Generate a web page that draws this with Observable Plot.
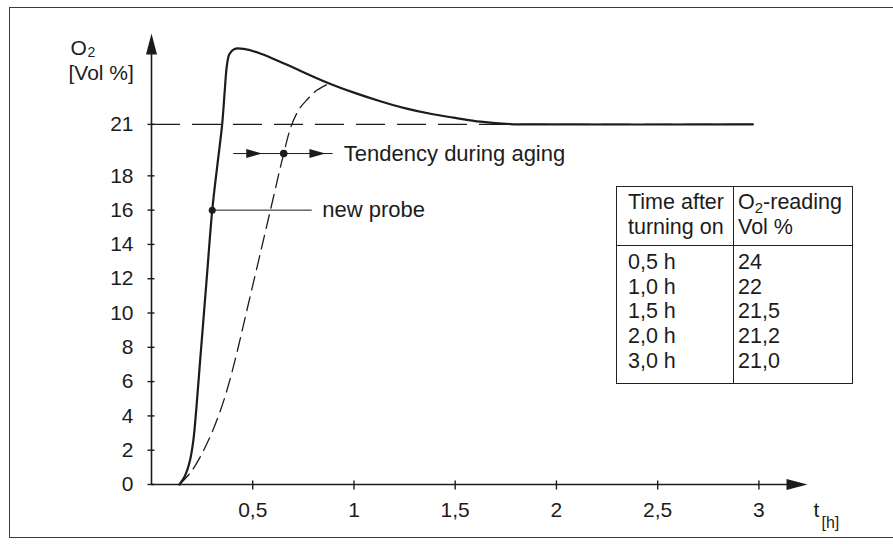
<!DOCTYPE html>
<html>
<head>
<meta charset="utf-8">
<script src="https://cdn.jsdelivr.net/npm/d3@7"></script>
<script src="https://cdn.jsdelivr.net/npm/@observablehq/plot@0.6"></script>
<style>
  html, body { margin: 0; padding: 0; background: #fff; }
  #wrap { position: relative; width: 893px; height: 548px; overflow: hidden; font-family: "Liberation Sans", Arial, sans-serif; color: #1c1c1c; }
  #border { position: absolute; left: 9px; top: 7px; width: 900px; height: 531px; border: 1.5px solid #3a3a3a; box-sizing: border-box; }
  #chart { position: absolute; left: 0; top: 0; }
  #table { position: absolute; left: 616px; top: 186px; width: 237px; height: 198px; border: 1.5px solid #222; box-sizing: border-box; background: #fff; font-size: 21.5px; line-height: 24.7px; }
  #table .vline { position: absolute; left: 116px; top: 0; bottom: 0; border-left: 1.5px solid #222; }
  #table .hline { position: absolute; left: 0; right: 0; top: 58px; border-top: 1.5px solid #222; }
  #table .c1 { position: absolute; left: 11px; white-space: nowrap; }
  #table .c2 { position: absolute; left: 121px; white-space: nowrap; }
  #table sub { font-size: 15px; vertical-align: -4px; line-height: 0; }
</style>
</head>
<body>
<div id="wrap">
  <div id="border"></div>
  <div id="chart"></div>
  <div id="table"></div>
</div>
<script>
// ---- data ----
const solidT = [0.138, 0.165, 0.19, 0.207, 0.222, 0.238, 0.255, 0.272, 0.30, 0.325, 0.349, 0.362, 0.372, 0.385, 0.41, 0.456, 0.54, 0.655, 0.875, 1.0, 1.13, 1.25, 1.378, 1.5, 1.625, 1.773, 1.9, 2.97];
const solidY = [0, 0.5, 1.4, 2.6, 4.5, 6.9, 9.4, 11.9, 16, 18.6, 21, 23, 24.4, 25.1, 25.4, 25.4, 25.12, 24.55, 23.4, 22.85, 22.35, 21.95, 21.62, 21.38, 21.16, 21.02, 21.0, 21.0];
const dashedT = [0.138, 0.193, 0.24, 0.29, 0.34, 0.38, 0.42, 0.468, 0.588, 0.653, 0.69, 0.73, 0.769, 0.818, 0.876];
const dashedY = [0, 0.7, 1.6, 2.8, 4.3, 5.8, 7.6, 10, 16.03, 19.3, 20.9, 21.9, 22.45, 23.0, 23.38];
const refT = [0, 2.97];
const refLevel = 21;
const xTicks = [0.5, 1, 1.5, 2, 2.5, 3];
const xTickLabels = ["0,5", "1", "1,5", "2", "2,5", "3"];
const yTicks = [0, 2, 4, 6, 8, 10, 12, 14, 16, 18, 21];
const probePoint = [0.30, 16];
const probeLineEnd = 0.794;
const probeTextT = 0.843;
const tendencyY = 19.3;
const tendencyLine = [0.406, 0.897];
const tendencyArrows = [0.547, 0.859];
const tendencyDot = 0.653;
const tendencyTextT = 0.95;
const tableHeader1 = ["Time after", "turning on"];
const tableHeader2 = ["O<sub>2</sub>-reading", "Vol %"];
const tableTimes = ["0,5 h", "1,0 h", "1,5 h", "2,0 h", "3,0 h"];
const tableReadings = ["24", "22", "21,5", "21,2", "21,0"];

const xMax = 3.24, yMax = 26.3;

// ---- custom symbols ----
const sym = (f) => ({draw: f});
const arrowUp = sym((c) => { c.moveTo(0, 0); c.lineTo(5.5, 21); c.lineTo(-5.5, 21); c.closePath(); });
const arrowRight = sym((c) => { c.moveTo(0, 0); c.lineTo(-21, -5.5); c.lineTo(-21, 5.5); c.closePath(); });
const smallArrow = sym((c) => { c.moveTo(0, 0); c.lineTo(-16, -4.5); c.lineTo(-16, 4.5); c.closePath(); });
const vTick = sym((c) => { c.moveTo(0, -4); c.lineTo(0, 5); });
const hTick = sym((c) => { c.moveTo(-4, 0); c.lineTo(3, 0); });

const solid = solidT.map((t, i) => ({t, y: solidY[i]}));
const dashed = dashedT.map((t, i) => ({t, y: dashedY[i]}));
const ref = refT.map((t) => ({t, y: refLevel}));
const ink = "#1c1c1c";

const chart = Plot.plot({
  width: 893, height: 548,
  marginLeft: 151, marginRight: 86, marginTop: 33, marginBottom: 64,
  x: {domain: [0, xMax], axis: null},
  y: {domain: [0, yMax], axis: null},
  style: {fontFamily: "'Liberation Sans', Arial, sans-serif", fontSize: "21px", background: "transparent", color: ink, overflow: "visible"},
  marks: [
    // axes
    Plot.ruleX([0], {y1: 0, y2: yMax - 0.5, stroke: ink, strokeWidth: 1.6}),
    Plot.ruleY([0], {x1: 0, x2: xMax - 0.05, stroke: ink, strokeWidth: 1.6}),
    Plot.dot([0], {x: 0, y: yMax, symbol: arrowUp, fill: ink, stroke: "none"}),
    Plot.dot([0], {x: xMax, y: 0, symbol: arrowRight, fill: ink, stroke: "none"}),
    Plot.dot(xTicks, {x: (d) => d, y: 0, symbol: vTick, fill: "none", stroke: ink, strokeWidth: 1.4}),
    Plot.dot(yTicks, {x: 0, y: (d) => d, symbol: hTick, fill: "none", stroke: ink, strokeWidth: 1.4}),
    Plot.text(xTicks, {x: (d) => d, y: 0, text: (d, i) => xTickLabels[i], dy: 32, lineAnchor: "bottom", fill: ink}),
    Plot.text(yTicks, {x: 0, y: (d) => d, text: (d) => String(d), dx: -18, textAnchor: "end", lineAnchor: "middle", fill: ink}),
    // axis labels
    Plot.text(["O"], {frameAnchor: "top-left", dx: -81, dy: 21, textAnchor: "start", lineAnchor: "bottom", fill: ink}),
    Plot.text(["2"], {frameAnchor: "top-left", dx: -64, dy: 23, textAnchor: "start", lineAnchor: "bottom", fill: ink, fontSize: 14}),
    Plot.text(["[Vol %]"], {frameAnchor: "top-left", dx: -83, dy: 46, textAnchor: "start", lineAnchor: "bottom", fill: ink}),
    Plot.text(["t"], {x: xMax, y: 0, dx: 6, dy: 32, textAnchor: "start", lineAnchor: "bottom", fill: ink}),
    Plot.text(["[h]"], {x: xMax, y: 0, dx: 14, dy: 43, textAnchor: "start", lineAnchor: "bottom", fill: ink, fontSize: 16}),
    // reference line at 21
    Plot.line(ref, {x: "t", y: "y", stroke: ink, strokeWidth: 1.3, strokeDasharray: "28,13"}),
    // curves
    Plot.line(dashed, {x: "t", y: "y", stroke: ink, strokeWidth: 1.3, strokeDasharray: "14,7", curve: "catmull-rom"}),
    Plot.line(solid, {x: "t", y: "y", stroke: ink, strokeWidth: 2.2, curve: "catmull-rom"}),
    // new probe annotation
    Plot.ruleY([probePoint[1]], {x1: probePoint[0], x2: probeLineEnd, stroke: ink, strokeWidth: 1}),
    Plot.dot([probePoint], {x: (d) => d[0], y: (d) => d[1], r: 3.5, fill: ink, stroke: "none"}),
    Plot.text(["new probe"], {x: probeTextT, y: probePoint[1], textAnchor: "start", lineAnchor: "middle", fill: ink, fontSize: 22}),
    // tendency annotation
    Plot.ruleY([tendencyY], {x1: tendencyLine[0], x2: tendencyLine[1], stroke: ink, strokeWidth: 1}),
    Plot.dot(tendencyArrows, {x: (d) => d, y: tendencyY, symbol: smallArrow, fill: ink, stroke: "none"}),
    Plot.dot([tendencyDot], {x: (d) => d, y: tendencyY, r: 3.8, fill: ink, stroke: "none"}),
    Plot.text(["Tendency during aging"], {x: tendencyTextT, y: tendencyY, textAnchor: "start", lineAnchor: "middle", fill: ink, fontSize: 22})
  ]
});
document.getElementById("chart").appendChild(chart);

// ---- table ----
const tbl = document.getElementById("table");
tbl.innerHTML = '<div class="vline"></div><div class="hline"></div>';
const addCell = (cls, html, top) => {
  const d = document.createElement("div");
  d.className = cls; d.style.top = top + "px"; d.innerHTML = html; tbl.appendChild(d);
};
tableHeader1.forEach((s, i) => addCell("c1", s, 3 + i * 24.7));
tableHeader2.forEach((s, i) => addCell("c2", s, 3 + i * 24.7));
tableTimes.forEach((s, i) => addCell("c1", s, 63 + i * 24.7));
tableReadings.forEach((s, i) => addCell("c2", s, 63 + i * 24.7));
</script>
</body>
</html>
